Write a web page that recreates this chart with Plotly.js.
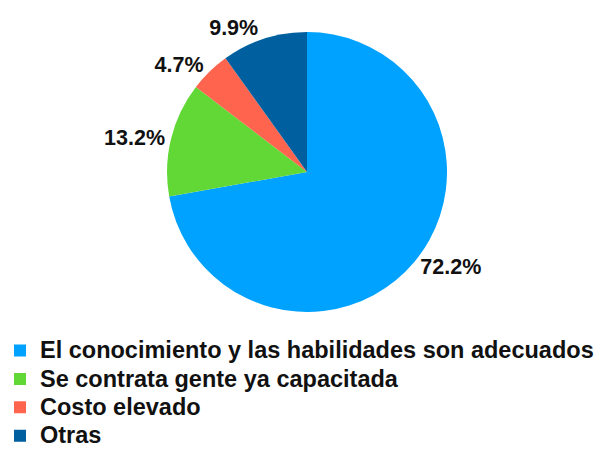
<!DOCTYPE html>
<html>
<head>
<meta charset="utf-8">
<script src="https://cdn.plot.ly/plotly-3.0.1.min.js"></script>
<style>html,body{margin:0;padding:0;background:#fff;}#chart{width:603px;height:454px;}</style>
</head>
<body>
<div id="chart"></div>
<script>
const categories = ["El conocimiento y las habilidades son adecuados", "Se contrata gente ya capacitada", "Costo elevado", "Otras"];
const values = [72.2, 13.2, 4.7, 9.9];
const colors = ["#00A2FF", "#61D836", "#FF644E", "#005F9E"];

// legend line spacing comes from the legend font size; glyphs are drawn a little larger
const legendLabels = categories.map(c => '<span style="font-size:23.5px">' + c + '</span>');

const trace = {
  type: "pie",
  labels: legendLabels,
  values: values,
  sort: false,
  direction: "clockwise",
  rotation: 0,
  marker: {colors: colors, line: {width: 0}},
  textposition: "outside",
  texttemplate: "%{percent:.1%}",
  textfont: {family: "Liberation Sans, Arial, sans-serif", size: 21.5, color: "#111", weight: 700},
  hoverinfo: "none",
  domain: {x: [0.277, 0.7413], y: [0.3128, 0.9295]}
};

const layout = {
  width: 603, height: 454,
  margin: {l: 0, r: 0, t: 0, b: 0, autoexpand: false},
  paper_bgcolor: "#fff",
  showlegend: true,
  legend: {
    x: 0, y: 0.27, xanchor: "left", yanchor: "top",
    orientation: "v",
    font: {family: "Liberation Sans, Arial, sans-serif", size: 19.5, color: "#111", weight: 700},
    bgcolor: "rgba(0,0,0,0)"
  }
};

Plotly.newPlot("chart", [trace], layout, {displayModeBar: false, staticPlot: true});
</script>
</body>
</html>
